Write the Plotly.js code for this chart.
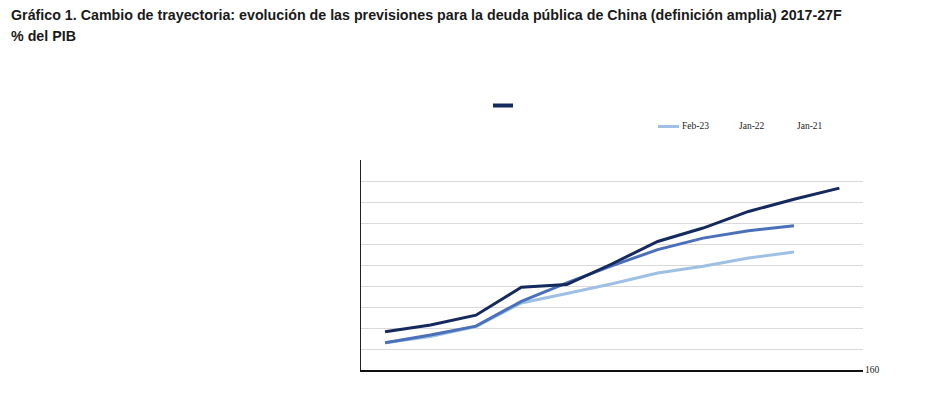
<!DOCTYPE html>
<html>
<head>
<meta charset="utf-8">
<script src="https://cdn.plot.ly/plotly-3.0.1.min.js"></script>
<style>html,body{margin:0;padding:0;background:#fff;}#chart{width:939px;height:395px;}</style>
</head>
<body>
<div id="chart"></div>
<script>
const years = [2017, 2018, 2019, 2020, 2021, 2022, 2023, 2024, 2025, 2026, 2027];
const seriesNames = ["Feb-23", "Jan-22", "Jan-21"];
const feb23 = [73.0, 76.0, 80.7, 91.9, 96.4, 101.1, 106.2, 109.4, 113.3, 116.2];
const jan22 = [73.0, 76.7, 80.9, 92.7, 101.5, 109.7, 117.3, 122.8, 126.3, 128.7];
const jan21 = [78.2, 81.4, 86.1, 99.4, 100.7, 110.6, 121.2, 127.6, 135.5, 141.3, 146.6];
const colors = ["#9dc0e4", "#4a70b9", "#14295e"];
const titleLines = ["Gráfico 1. Cambio de trayectoria: evolución de las previsiones para la deuda pública de China (definición amplia) 2017-27F", "% del PIB"];
const cornerLabel = "160";

const allSeries = [feb23, jan22, jan21];
const traces = allSeries.map((vals, i) => ({
  x: years.slice(0, vals.length),
  y: vals,
  type: 'scatter',
  mode: 'lines',
  name: seriesNames[i],
  line: {color: colors[i], width: 3},
  hoverinfo: 'skip'
}));

const L = 361, R = 76, T = 160, B = 25;
const W = 939, H = 395;
const pw = W - L - R, ph = H - T - B;
const px = x => (x - L) / pw;
const py = y => (H - B - y) / ph;

const titleFont = {family: 'Liberation Sans, Arial, sans-serif', size: 14.25, color: '#1a1a1a'};
const serifFont = {family: 'Liberation Serif, Times New Roman, serif', size: 9.5, color: '#222'};

const annotations = [
  {text: '<b>' + titleLines[0] + '</b>', x: px(9), y: py(15), xref: 'paper', yref: 'paper', xanchor: 'left', yanchor: 'middle', showarrow: false, font: titleFont},
  {text: '<b>' + titleLines[1] + '</b>', x: px(9), y: py(36), xref: 'paper', yref: 'paper', xanchor: 'left', yanchor: 'middle', showarrow: false, font: titleFont},
  {text: seriesNames[0], x: px(680), y: py(126), xref: 'paper', yref: 'paper', xanchor: 'left', yanchor: 'middle', showarrow: false, font: serifFont},
  {text: seriesNames[1], x: px(737), y: py(126), xref: 'paper', yref: 'paper', xanchor: 'left', yanchor: 'middle', showarrow: false, font: serifFont},
  {text: seriesNames[2], x: px(795), y: py(126), xref: 'paper', yref: 'paper', xanchor: 'left', yanchor: 'middle', showarrow: false, font: serifFont},
  {text: cornerLabel, x: px(863), y: py(370), xref: 'paper', yref: 'paper', xanchor: 'left', yanchor: 'middle', showarrow: false, font: serifFont}
];

const shapes = [
  {type: 'line', xref: 'paper', yref: 'paper', x0: px(658), x1: px(679), y0: py(126.5), y1: py(126.5), line: {color: colors[0], width: 3}},
  {type: 'line', xref: 'paper', yref: 'paper', x0: px(493), x1: px(513), y0: py(105.5), y1: py(105.5), line: {color: colors[2], width: 4}}
];

const layout = {
  width: W, height: H,
  margin: {l: L, r: R, t: T, b: B, pad: 0},
  paper_bgcolor: '#fff', plot_bgcolor: '#fff',
  showlegend: false,
  xaxis: {range: [2016.47, 2027.52], showgrid: false, zeroline: false, showticklabels: false, ticks: '', showline: true, linecolor: '#111', linewidth: 1.5},
  yaxis: {range: [60, 160], dtick: 10, showgrid: true, gridcolor: '#d9d9d9', gridwidth: 1, zeroline: false, showticklabels: false, ticks: '', showline: true, linecolor: '#222', linewidth: 1},
  annotations: annotations,
  shapes: shapes
};

Plotly.newPlot('chart', traces, layout, {displayModeBar: false, staticPlot: true});
</script>
</body>
</html>
